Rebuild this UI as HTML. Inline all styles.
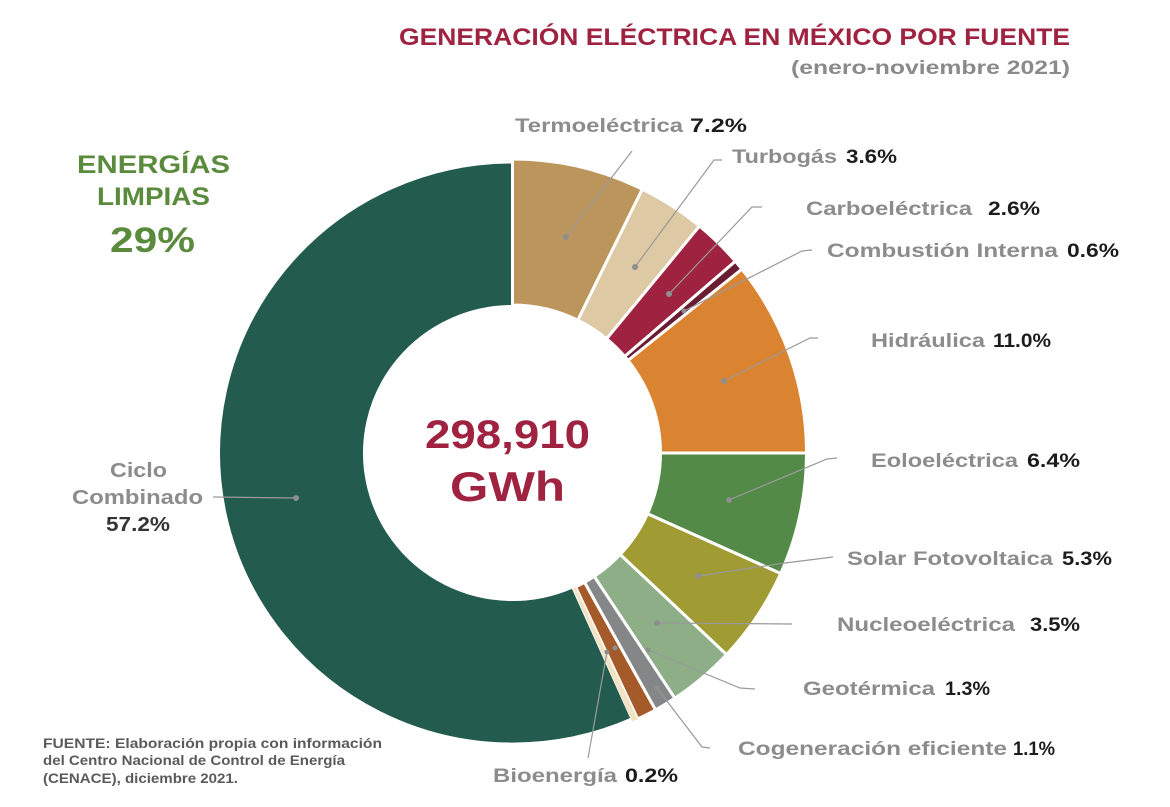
<!DOCTYPE html>
<html>
<head>
<meta charset="utf-8">
<style>
  html,body{margin:0;padding:0;background:#ffffff;}
  svg{display:block;}
  .nm{fill:#8c8c8c;}
  .pc{fill:#1c1c1c;}
</style>
</head>
<body>
<svg width="1170" height="807" viewBox="0 0 1170 807" xmlns="http://www.w3.org/2000/svg" font-family="'Liberation Sans', Arial, sans-serif" font-weight="bold">
  <rect x="0" y="0" width="1170" height="807" fill="#ffffff"/>

  <!-- Title -->
  <text x="399" y="45" font-size="24" fill="#9F2241" textLength="671" lengthAdjust="spacingAndGlyphs">GENERACIÓN ELÉCTRICA EN MÉXICO POR FUENTE</text>
  <text x="791" y="74" font-size="19" fill="#8a8a8a" textLength="279" lengthAdjust="spacingAndGlyphs">(enero-noviembre 2021)</text>

  <!-- Energías limpias -->
  <text x="77" y="173" font-size="25" fill="#5a8a3c" textLength="153" lengthAdjust="spacingAndGlyphs">ENERGÍAS</text>
  <text x="97" y="205" font-size="25" fill="#5a8a3c" textLength="113" lengthAdjust="spacingAndGlyphs">LIMPIAS</text>
  <text x="110" y="252" font-size="35" fill="#5a8a3c" textLength="85" lengthAdjust="spacingAndGlyphs">29%</text>

  <!-- Donut segments -->
  <g stroke="#ffffff" stroke-width="3" stroke-linejoin="miter">
    <path transform="matrix(1,0,0,0.99,0,4.53)" d="M632.1,721.6 A294,294 0 1 1 512.5,159 L512.5,305 A148,148 0 1 0 572.7,588.2 Z" fill="#235B4E"/>
    <path d="M512.5,159 A294,294 0 0 1 642.3,189.2 L577.8,320.2 A148,148 0 0 0 512.5,305 Z" fill="#BC955C"/>
    <path d="M642.3,189.2 A294,294 0 0 1 699.5,226.1 L606.6,338.8 A148,148 0 0 0 577.8,320.2 Z" fill="#DDC9A3"/>
    <path d="M699.5,226.1 A294,294 0 0 1 735.4,261.3 L624.7,356.5 A148,148 0 0 0 606.6,338.8 Z" fill="#9F2241"/>
    <path d="M735.4,261.3 A294,294 0 0 1 741.9,269.2 L628.0,360.5 A148,148 0 0 0 624.7,356.5 Z" fill="#691C32"/>
    <path d="M741.9,269.2 A294,294 0 0 1 806.5,453 L660.5,453 A148,148 0 0 0 628.0,360.5 Z" fill="#DA8330"/>
    <path d="M806.5,453 A294,294 0 0 1 780.7,573.5 L647.5,513.7 A148,148 0 0 0 660.5,453 Z" fill="#548A47"/>
    <path d="M780.7,573.5 A294,294 0 0 1 726.5,654.6 L620.2,554.5 A148,148 0 0 0 647.5,513.7 Z" fill="#A09B33"/>
    <path d="M726.5,654.6 A294,294 0 0 1 674.8,698.2 L594.2,576.4 A148,148 0 0 0 620.2,554.5 Z" fill="#8DAE86"/>
    <path d="M674.8,698.2 A294,294 0 0 1 655.5,709.9 L584.5,582.3 A148,148 0 0 0 594.2,576.4 Z" fill="#858688"/>
    <path d="M655.5,709.9 A294,294 0 0 1 637.7,719.0 L575.5,586.9 A148,148 0 0 0 584.5,582.3 Z" fill="#A55A29"/>
  </g>
  <path d="M637.7,719.0 A294,294 0 0 1 632.1,721.6 L572.7,588.2 A148,148 0 0 0 575.5,586.9 Z" fill="#F1E3C3"/>

  <!-- Center text -->
  <text x="425" y="448" font-size="40" fill="#9F2241" textLength="165" lengthAdjust="spacingAndGlyphs">298,910</text>
  <text x="450" y="501" font-size="42" fill="#9F2241" textLength="115" lengthAdjust="spacingAndGlyphs">GWh</text>

  <!-- Leader lines -->
  <g fill="none" stroke="#9a9a9a" stroke-width="1.2">
    <polyline points="632,151 566,237"/>
    <polyline points="722,160 714,160 635,267"/>
    <polyline points="762,207 752,207 669,294"/>
    <polyline points="812,250 802,251 684,311"/>
    <polyline points="818,338 810,338 724,381"/>
    <polyline points="837,458 827,459 729,500"/>
    <polyline points="833,557 785,563 698,576"/>
    <polyline points="792,624 657,623"/>
    <polyline points="755,689 740,688 648,650"/>
    <polyline points="710,748 702,747 657,688"/>
    <polyline points="588,758 607,652"/>
    <polyline points="213,497 296,498"/>
  </g>
  <g fill="#8f8f8f">
    <circle cx="566" cy="237" r="3"/>
    <circle cx="635" cy="267" r="3"/>
    <circle cx="669" cy="294" r="3"/>
    <circle cx="684" cy="311" r="2.5"/>
    <circle cx="724" cy="381" r="3"/>
    <circle cx="729" cy="500" r="3"/>
    <circle cx="698" cy="576" r="3"/>
    <circle cx="657" cy="623" r="3"/>
    <circle cx="648" cy="650" r="2.5"/>
    <circle cx="657" cy="688" r="2.5"/>
    <circle cx="607" cy="652" r="2.5"/>
    <circle cx="615" cy="648" r="2.5"/>
    <circle cx="296" cy="498" r="3"/>
  </g>

  <!-- Labels -->
  <text class="nm" x="515" y="132" font-size="19" textLength="168" lengthAdjust="spacingAndGlyphs">Termoeléctrica</text>
  <text class="pc" x="690" y="132" font-size="19" textLength="57" lengthAdjust="spacingAndGlyphs">7.2%</text>

  <text class="nm" x="732" y="163" font-size="19" textLength="105" lengthAdjust="spacingAndGlyphs">Turbogás</text>
  <text class="pc" x="846" y="163" font-size="19" textLength="51" lengthAdjust="spacingAndGlyphs">3.6%</text>

  <text class="nm" x="806" y="215" font-size="19" textLength="166" lengthAdjust="spacingAndGlyphs">Carboeléctrica</text>
  <text class="pc" x="988" y="215" font-size="19" textLength="52" lengthAdjust="spacingAndGlyphs">2.6%</text>

  <text class="nm" x="827" y="257" font-size="19" textLength="231" lengthAdjust="spacingAndGlyphs">Combustión Interna</text>
  <text class="pc" x="1067" y="257" font-size="19" textLength="52" lengthAdjust="spacingAndGlyphs">0.6%</text>

  <text class="nm" x="871" y="347" font-size="19" textLength="114" lengthAdjust="spacingAndGlyphs">Hidráulica</text>
  <text class="pc" x="993" y="347" font-size="19" textLength="58" lengthAdjust="spacingAndGlyphs">11.0%</text>

  <text class="nm" x="871" y="467" font-size="19" textLength="147" lengthAdjust="spacingAndGlyphs">Eoloeléctrica</text>
  <text class="pc" x="1027" y="467" font-size="19" textLength="53" lengthAdjust="spacingAndGlyphs">6.4%</text>

  <text class="nm" x="847" y="565" font-size="19" textLength="206" lengthAdjust="spacingAndGlyphs">Solar Fotovoltaica</text>
  <text class="pc" x="1062" y="565" font-size="19" textLength="50" lengthAdjust="spacingAndGlyphs">5.3%</text>

  <text class="nm" x="837" y="631" font-size="19" textLength="178" lengthAdjust="spacingAndGlyphs">Nucleoeléctrica</text>
  <text class="pc" x="1030" y="631" font-size="19" textLength="50" lengthAdjust="spacingAndGlyphs">3.5%</text>

  <text class="nm" x="803" y="695" font-size="19" textLength="132" lengthAdjust="spacingAndGlyphs">Geotérmica</text>
  <text class="pc" x="945" y="695" font-size="19" textLength="45" lengthAdjust="spacingAndGlyphs">1.3%</text>

  <text class="nm" x="738" y="755" font-size="19" textLength="269" lengthAdjust="spacingAndGlyphs">Cogeneración eficiente</text>
  <text class="pc" x="1013" y="755" font-size="19" textLength="42" lengthAdjust="spacingAndGlyphs">1.1%</text>

  <text class="nm" x="493" y="782" font-size="19" textLength="124" lengthAdjust="spacingAndGlyphs">Bioenergía</text>
  <text class="pc" x="625" y="782" font-size="19" textLength="53" lengthAdjust="spacingAndGlyphs">0.2%</text>

  <text class="nm" x="110" y="477" font-size="20" textLength="57" lengthAdjust="spacingAndGlyphs">Ciclo</text>
  <text class="nm" x="72" y="504" font-size="20" textLength="131" lengthAdjust="spacingAndGlyphs">Combinado</text>
  <text x="106" y="531" font-size="20" fill="#333333" textLength="64" lengthAdjust="spacingAndGlyphs">57.2%</text>

  <!-- Source -->
  <text x="43" y="748" font-size="13.5" fill="#5a5a5a" textLength="339" lengthAdjust="spacingAndGlyphs">FUENTE:  Elaboración propia con información</text>
  <text x="43" y="765" font-size="13.5" fill="#5a5a5a" textLength="302" lengthAdjust="spacingAndGlyphs">del Centro Nacional de Control de Energía</text>
  <text x="43" y="783" font-size="13.5" fill="#5a5a5a" textLength="195" lengthAdjust="spacingAndGlyphs">(CENACE), diciembre 2021.</text>
</svg>
</body>
</html>
